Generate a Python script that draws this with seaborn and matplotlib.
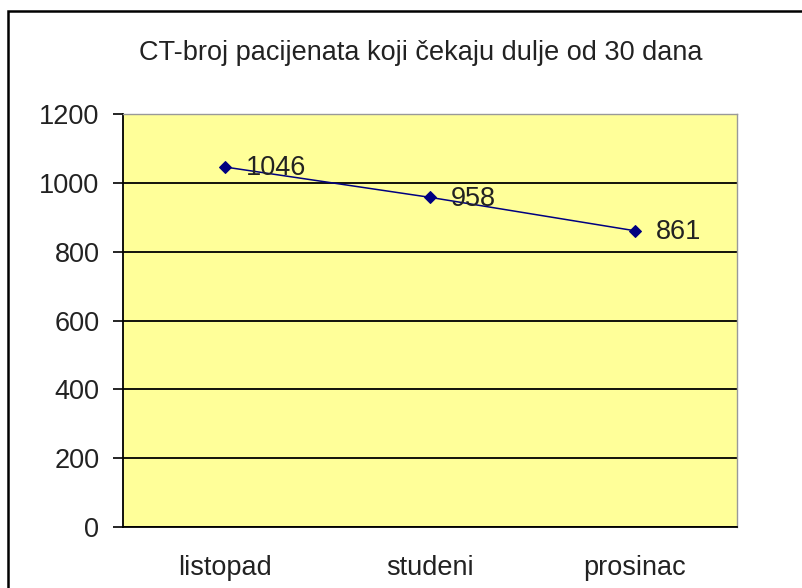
import matplotlib
matplotlib.use("Agg")
import matplotlib.pyplot as plt
import matplotlib.patches as patches
import seaborn as sns
import pandas as pd

# podaci
mjeseci = ["listopad", "studeni", "prosinac"]
broj_pacijenata = [1046, 958, 861]
y_ticks = [0, 200, 400, 600, 800, 1000, 1200]
naslov = "CT-broj pacijenata koji čekaju dulje od 30 dana"

df = pd.DataFrame({"mjesec": mjeseci, "broj": broj_pacijenata})

sns.set_style("white")
plt.rcParams["font.family"] = ["Liberation Sans", "DejaVu Sans"]

fig = plt.figure(figsize=(8.02, 5.88), dpi=100)
ax = fig.add_axes([0.1534, 0.1037, 0.9190 - 0.1534, 0.806 - 0.1037])

# okvir grafikona
fig.patches.append(patches.Rectangle((8 / 802, -0.05), 1.0, 1 - 11 / 588 + 0.05,
                                     transform=fig.transFigure, fill=False,
                                     edgecolor="black", linewidth=1.8))

ax.set_facecolor("#FFFF99")
x = list(range(len(mjeseci)))
sns.lineplot(x=x, y=df["broj"], ax=ax, color="#000080", linewidth=1.1,
             marker="D", markersize=6, markeredgecolor="#000080")

for xi, v in zip(x, broj_pacijenata):
    ax.annotate(str(v), (xi, v), xytext=(15, -1), textcoords="offset points",
                va="center", ha="left", fontsize=19.5, color="#222222")

ax.set_xlim(-0.5, len(mjeseci) - 0.5)
ax.set_ylim(0, 1200)
ax.set_yticks(y_ticks)
ax.set_yticklabels([str(t) for t in y_ticks], fontsize=19.5, color="#222222")
ax.yaxis.grid(True, color="black", linewidth=1.3)
ax.set_axisbelow(True)

ax.set_xticks(x)
ax.set_xticklabels(mjeseci, fontsize=19.5, color="#222222")
ax.set_xticks([i - 0.5 for i in range(len(mjeseci) + 1)], minor=True)
ax.tick_params(axis="x", which="major", length=0, pad=20)
ax.tick_params(axis="x", which="minor", length=7, width=1.2, color="black", direction="out")
ax.tick_params(axis="y", which="major", length=7, width=1.2, color="black", direction="out", left=True, pad=10)
ax.set_xlabel("")
ax.set_ylabel("")

for s in ["top", "right"]:
    ax.spines[s].set_color("#999999")
    ax.spines[s].set_linewidth(1.0)
for s in ["left", "bottom"]:
    ax.spines[s].set_color("black")
    ax.spines[s].set_linewidth(1.3)

fig.text(0.525, 1 - 53 / 588, naslov, ha="center", va="center", fontsize=19.5, color="#222222")

fig.savefig("out.png", dpi=100)
plt.close(fig)
